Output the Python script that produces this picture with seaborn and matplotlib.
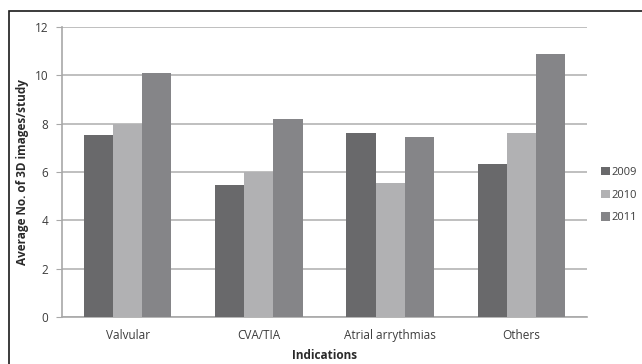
import matplotlib
matplotlib.use('Agg')
import matplotlib.pyplot as plt
from matplotlib.patches import Rectangle
import pandas as pd
import seaborn as sns

# data
indications = ['Valvular', 'CVA/TIA', 'Atrial arrythmias', 'Others']
years = ['2009', '2010', '2011']
vals_2009 = [7.55, 5.48, 7.6, 6.33]
vals_2010 = [8.0, 6.0, 5.55, 7.6]
vals_2011 = [10.1, 8.2, 7.43, 10.88]
colors = ['#69696b', '#b1b1b3', '#858588']

rows = []
for year, vals in zip(years, [vals_2009, vals_2010, vals_2011]):
    for ind, v in zip(indications, vals):
        rows.append({'Indications': ind, 'Year': year, 'Value': v})
df = pd.DataFrame(rows)

sns.set_style('white')
plt.rcParams['font.family'] = ['Open Sans', 'DejaVu Sans']

fig = plt.figure(figsize=(6.42, 3.64), dpi=100)
ax = fig.add_axes([62 / 642, 47 / 364, 525 / 642, 290 / 364])

sns.barplot(data=df, x='Indications', y='Value', hue='Year', order=indications,
            hue_order=years, palette=colors, width=0.665, saturation=1,
            edgecolor='none', ax=ax, zorder=3)

ax.set_ylim(0, 12)
ax.set_xlim(-0.5, 3.5)
ax.set_yticks(range(0, 13, 2))
ax.yaxis.grid(True, color='#b4b4b4', linewidth=1.2, zorder=0)
ax.set_axisbelow(True)
for side in ['top', 'right']:
    ax.spines[side].set_visible(False)
ax.spines['left'].set_color('#a8a8a8')
ax.spines['bottom'].set_color('#a8a8a8')
ax.spines['left'].set_linewidth(1.2)
ax.spines['bottom'].set_linewidth(1.2)
ax.tick_params(axis='y', which='both', left=True, length=4, color='#a8a8a8',
               labelsize=8.5, labelcolor='#3c3c3c', pad=6)
ax.tick_params(axis='x', bottom=False, labelsize=8.5, labelcolor='#3c3c3c', pad=5)

ax.set_xlabel('Indications', fontsize=8.5, fontweight='bold', color='#2a2a2a', labelpad=5)
ax.set_ylabel('Average No. of 3D images/study', fontsize=8.5, fontweight='bold',
              color='#2a2a2a')
ax.yaxis.set_label_coords(-33 / 525, 0.5)

leg = ax.legend(loc='center left', bbox_to_anchor=(1.008, 0.42), frameon=False,
                fontsize=8, handlelength=0.75, handleheight=0.75,
                handletextpad=0.2, labelspacing=1.05)
for t in leg.get_texts():
    t.set_color('#3c3c3c')

# outer frame (top and left edges visible in the original)
fig.patches.append(Rectangle((9 / 642, -0.2), 1.2, 1.2 - 11 / 364,
                             transform=fig.transFigure, fill=False,
                             edgecolor='#1a1a1a', linewidth=1.2))

fig.savefig('out.png', dpi=100)
